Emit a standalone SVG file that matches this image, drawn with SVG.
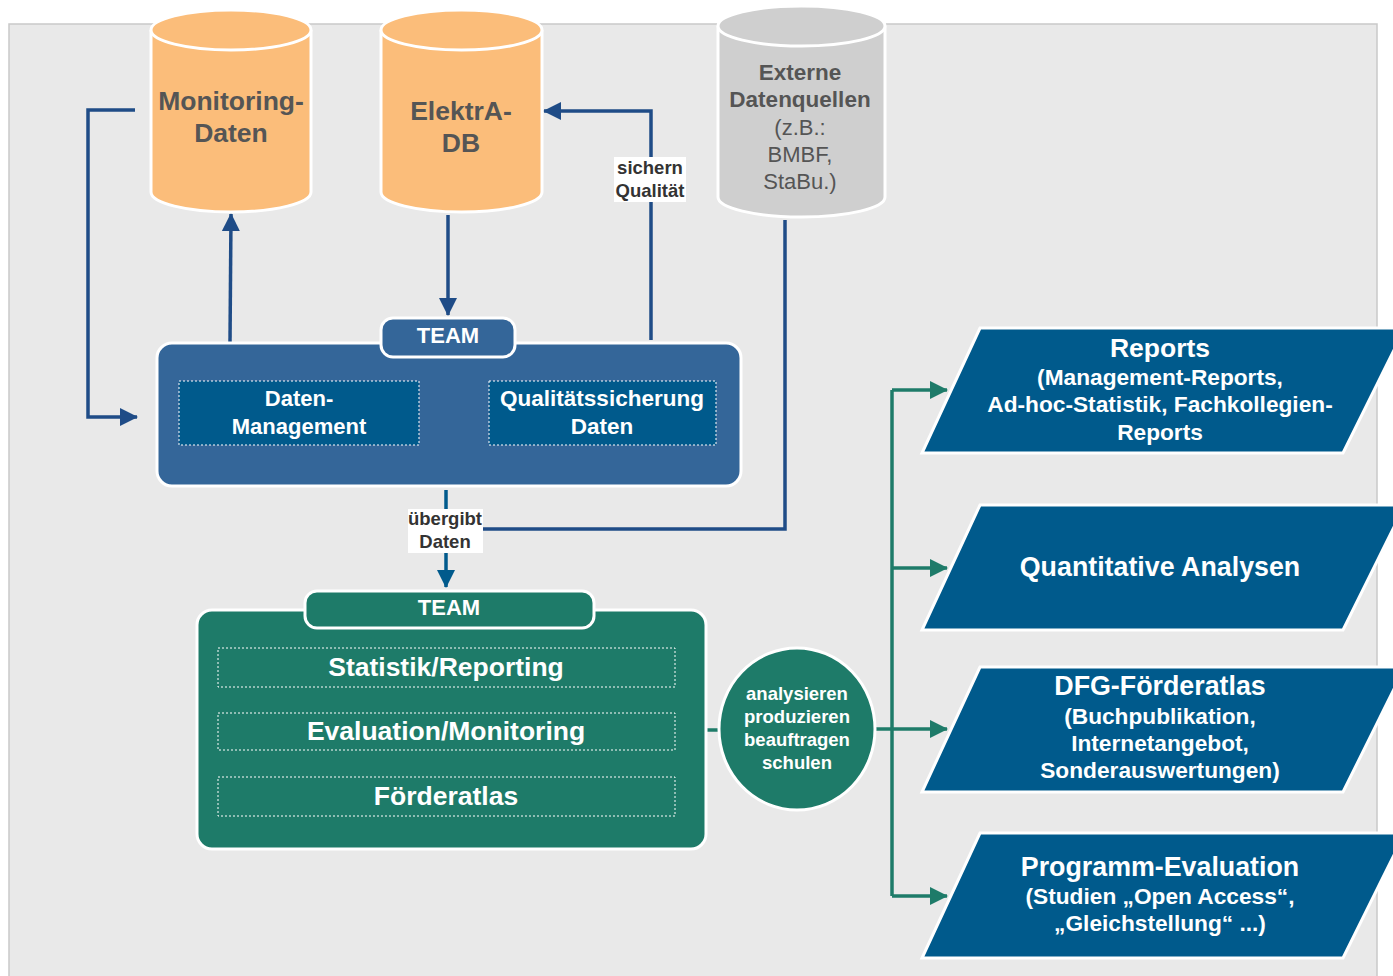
<svg xmlns="http://www.w3.org/2000/svg" width="1393" height="976" viewBox="0 0 1393 976">
  <style>
    .bg { fill: #e9e9e9; stroke: #c9c9c9; stroke-width: 1.5; }
    .cyl-o { fill: #fbbd7a; stroke: #ffffff; stroke-width: 3; }
    .cyl-g { fill: #cfcfcf; stroke: #ffffff; stroke-width: 3; }
    .dbtxt { font-family: "Liberation Sans", Arial, sans-serif; font-weight: bold; font-size: 26.5px; fill: #555555; text-anchor: middle; }
    .ext-b { font-family: "Liberation Sans", Arial, sans-serif; font-weight: bold; font-size: 22.5px; fill: #555555; text-anchor: middle; }
    .ext-n { font-family: "Liberation Sans", Arial, sans-serif; font-size: 22px; fill: #555555; text-anchor: middle; }
    .team-blue { fill: #346699; stroke: #ffffff; stroke-width: 3; }
    .team-green { fill: #1e7b69; stroke: #ffffff; stroke-width: 3; }
    .inner-blue { fill: #005a8c; stroke: #ffffff; stroke-width: 1; stroke-dasharray: 2 2; }
    .inner-green { fill: #1e7b69; stroke: #ffffff; stroke-width: 1; stroke-dasharray: 2 2; }
    .wt { font-family: "Liberation Sans", Arial, sans-serif; font-weight: bold; fill: #ffffff; text-anchor: middle; }
    .lbl { font-family: "Liberation Sans", Arial, sans-serif; font-weight: bold; font-size: 18.5px; fill: #333333; text-anchor: middle; }
    .lblbg { fill: #ffffff; }
    .out { fill: #005a8c; stroke: #ffffff; stroke-width: 3; }
    .navy { fill: none; stroke: #1f4c87; stroke-width: 3.5; }
    .mid { fill: none; stroke: #005a8c; stroke-width: 3.5; }
    .green { fill: none; stroke: #1e7b69; stroke-width: 3.5; }
  </style>
  <defs>
    <marker id="ah-navy" viewBox="0 0 18 18" refX="17" refY="9" markerWidth="18" markerHeight="18" markerUnits="userSpaceOnUse" orient="auto">
      <path d="M0,0 L18,9 L0,18 Z" fill="#1f4c87"/>
    </marker>
    <marker id="ah-mid" viewBox="0 0 18 18" refX="17" refY="9" markerWidth="18" markerHeight="18" markerUnits="userSpaceOnUse" orient="auto">
      <path d="M0,0 L18,9 L0,18 Z" fill="#005a8c"/>
    </marker>
    <marker id="ah-green" viewBox="0 0 18 18" refX="17" refY="9" markerWidth="18" markerHeight="18" markerUnits="userSpaceOnUse" orient="auto">
      <path d="M0,0 L18,9 L0,18 Z" fill="#1e7b69"/>
    </marker>
  </defs>

  <!-- background panel -->
  <rect class="bg" x="9" y="24" width="1368" height="970"/>

  <!-- connectors -->
  <g id="connectors">
    <!-- Monitoring-Daten back into data management -->
    <path class="navy" d="M135,110 L88,110 L88,417 L137,417" marker-end="url(#ah-navy)"/>
    <!-- team up to Monitoring-Daten -->
    <path class="navy" d="M230,343 L231,214" marker-end="url(#ah-navy)"/>
    <!-- ElektrA-DB down to team -->
    <path class="navy" d="M448,215 L448,315" marker-end="url(#ah-navy)"/>
    <!-- quality assurance back to ElektrA-DB -->
    <path class="navy" d="M651,340 L651,111 L544,111" marker-end="url(#ah-navy)"/>
    <!-- external sources to hand-over line -->
    <path class="navy" d="M785,220 L785,529 L483,529"/>
    <!-- hand-over from blue team to green team -->
    <path class="mid" d="M446,490 L446,587" marker-end="url(#ah-mid)"/>
    <!-- green team to circle and on to outputs -->
    <path class="green" d="M706,730 L720,730"/>
    <path class="green" d="M875,729 L892,729"/>
    <path class="green" d="M892,390 L892,896"/>
    <path class="green" d="M892,390 L947,390" marker-end="url(#ah-green)"/>
    <path class="green" d="M892,568 L947,568" marker-end="url(#ah-green)"/>
    <path class="green" d="M892,729 L947,729" marker-end="url(#ah-green)"/>
    <path class="green" d="M892,896 L947,896" marker-end="url(#ah-green)"/>
    <!-- connector labels -->
    <rect class="lblbg" x="614" y="157" width="72" height="45"/>
    <text class="lbl" x="650" y="174">sichern</text>
    <text class="lbl" x="650" y="197">Qualität</text>
    <rect class="lblbg" x="408" y="509" width="75" height="44"/>
    <text class="lbl" x="445" y="525">übergibt</text>
    <text class="lbl" x="445" y="548">Daten</text>
  </g>

  <!-- databases -->
  <g id="monitoring-daten">
    <path class="cyl-o" d="M151,30 L151,192 A80,20 0 0 0 311,192 L311,30"/>
    <ellipse class="cyl-o" cx="231" cy="30" rx="80" ry="20"/>
    <text class="dbtxt" x="231" y="110">Monitoring-</text>
    <text class="dbtxt" x="231" y="142">Daten</text>
  </g>
  <g id="elektra-db">
    <path class="cyl-o" d="M381,30 L381,192 A80.5,20 0 0 0 542,192 L542,30"/>
    <ellipse class="cyl-o" cx="461.5" cy="30" rx="80.5" ry="20"/>
    <text class="dbtxt" x="461" y="120">ElektrA-</text>
    <text class="dbtxt" x="461" y="152">DB</text>
  </g>
  <g id="externe-datenquellen">
    <path class="cyl-g" d="M718,26 L718,197 A83.5,20 0 0 0 885,197 L885,26"/>
    <ellipse class="cyl-g" cx="801.5" cy="26" rx="83.5" ry="20"/>
    <text class="ext-b" x="800" y="80">Externe</text>
    <text class="ext-b" x="800" y="107">Datenquellen</text>
    <text class="ext-n" x="800" y="135">(z.B.:</text>
    <text class="ext-n" x="800" y="162">BMBF,</text>
    <text class="ext-n" x="800" y="189">StaBu.)</text>
  </g>

  <!-- data team -->
  <g id="team-daten">
    <rect class="team-blue" x="157" y="343" width="584" height="143" rx="15"/>
    <rect class="team-blue" x="381" y="318" width="134" height="39" rx="12"/>
    <text class="wt" x="448" y="343" font-size="22">TEAM</text>
    <rect class="inner-blue" x="179" y="381" width="240" height="64"/>
    <text class="wt" x="299" y="406" font-size="22">Daten-</text>
    <text class="wt" x="299" y="434" font-size="22">Management</text>
    <rect class="inner-blue" x="489" y="381" width="227" height="64"/>
    <text class="wt" x="602" y="406" font-size="22.5">Qualitätssicherung</text>
    <text class="wt" x="602" y="434" font-size="22.5">Daten</text>
  </g>

  <!-- analysis team -->
  <g id="team-analyse">
    <rect class="team-green" x="197" y="610" width="509" height="239" rx="15"/>
    <rect class="team-green" x="305" y="591" width="289" height="37" rx="12"/>
    <text class="wt" x="449" y="615" font-size="22">TEAM</text>
    <rect class="inner-green" x="218" y="648" width="457" height="39"/>
    <text class="wt" x="446" y="676" font-size="26.5">Statistik/Reporting</text>
    <rect class="inner-green" x="218" y="713" width="457" height="37"/>
    <text class="wt" x="446" y="740" font-size="26.5">Evaluation/Monitoring</text>
    <rect class="inner-green" x="218" y="777" width="457" height="39"/>
    <text class="wt" x="446" y="805" font-size="26.5">Förderatlas</text>
  </g>

  <!-- activities -->
  <g id="taetigkeiten">
    <ellipse class="team-green" cx="797" cy="729" rx="78" ry="81"/>
    <text class="wt" x="797" y="700" font-size="18.5">analysieren</text>
    <text class="wt" x="797" y="723" font-size="18.5">produzieren</text>
    <text class="wt" x="797" y="746" font-size="18.5">beauftragen</text>
    <text class="wt" x="797" y="769" font-size="18.5">schulen</text>
  </g>

  <!-- outputs -->
  <g id="reports">
    <path class="out" d="M980,328 L1405,328 L1343,453 L922,453 Z"/>
    <text class="wt" x="1160" y="357" font-size="26.5">Reports</text>
    <text class="wt" x="1160" y="385" font-size="22.7">(Management-Reports,</text>
    <text class="wt" x="1160" y="412" font-size="22.7">Ad-hoc-Statistik, Fachkollegien-</text>
    <text class="wt" x="1160" y="440" font-size="22.7">Reports</text>
  </g>
  <g id="quantitative-analysen">
    <path class="out" d="M980,505 L1405,505 L1343,630 L922,630 Z"/>
    <text class="wt" x="1160" y="576" font-size="26.8">Quantitative Analysen</text>
  </g>
  <g id="foerderatlas">
    <path class="out" d="M980,667 L1405,667 L1343,792 L922,792 Z"/>
    <text class="wt" x="1160" y="695" font-size="26.8">DFG-Förderatlas</text>
    <text class="wt" x="1160" y="724" font-size="22.7">(Buchpublikation,</text>
    <text class="wt" x="1160" y="751" font-size="22.7">Internetangebot,</text>
    <text class="wt" x="1160" y="778" font-size="22.7">Sonderauswertungen)</text>
  </g>
  <g id="programm-evaluation">
    <path class="out" d="M980,833 L1405,833 L1343,958 L922,958 Z"/>
    <text class="wt" x="1160" y="876" font-size="26.8">Programm-Evaluation</text>
    <text class="wt" x="1160" y="904" font-size="22.7">(Studien „Open Access“,</text>
    <text class="wt" x="1160" y="931" font-size="22.7">„Gleichstellung“ ...)</text>
  </g>
</svg>
